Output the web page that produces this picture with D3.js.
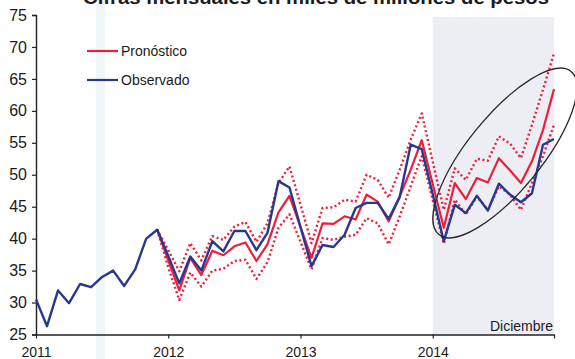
<!DOCTYPE html>
<html>
<head>
<meta charset="utf-8">
<script src="https://cdn.jsdelivr.net/npm/d3@7/dist/d3.min.js"></script>
<style>
  html, body { margin: 0; padding: 0; background: #ffffff; }
  svg { display: block; }
  text { font-family: "Liberation Sans", Arial, sans-serif; fill: #1b1b1b; }
</style>
</head>
<body>
<svg id="chart" width="575" height="359"></svg>
<script>
// ---- data (monthly, Jan 2011 .. Dec 2014) ----
const yearLabels = ["2011", "2012", "2013", "2014"];
const yTicks = [25, 30, 35, 40, 45, 50, 55, 60, 65, 70, 75];
const seriesNames = ["Pronóstico", "Observado"];
const titleText = "Cifras mensuales en miles de millones de pesos";
const endLabel = "Diciembre";

const observado = [
  30.5, 26.3, 31.9, 29.9, 32.9, 32.4, 34.0, 35.0, 32.6, 35.2, 40.0, 41.4,
  37.3, 33.0, 37.2, 35.0, 39.6, 38.0, 41.2, 41.2, 38.2, 40.9, 49.0, 48.0,
  41.8, 35.7, 39.0, 38.7, 40.6, 44.8, 45.6, 45.6, 43.1, 46.5, 54.7, 54.0,
  46.9, 39.6, 45.3, 44.0, 46.7, 44.4, 48.6, 46.9, 45.7, 47.1, 54.7, 55.6
];
const pronostico = [
  null, null, null, null, null, null, null, null, null, null, null, 41.4,
  36.6, 31.9, 37.0, 34.3, 38.1, 37.4, 38.8, 39.4, 36.5, 39.1, 44.1, 46.7,
  41.8, 37.0, 42.4, 42.3, 43.5, 43.0, 46.9, 45.8, 42.7, 46.6, 50.8, 55.4,
  48.5, 41.7, 48.7, 46.2, 49.5, 48.8, 52.6, 50.7, 48.7, 52.1, 57.0, 63.4
];
const superior = [
  null, null, null, null, null, null, null, null, null, null, null, 41.4,
  38.2, 34.9, 39.3, 36.6, 40.4, 39.8, 41.9, 42.6, 39.5, 42.4, 48.7, 51.3,
  45.3, 39.3, 44.8, 44.9, 46.1, 45.8, 50.0, 49.2, 46.4, 50.8, 55.5, 59.6,
  52.0, 44.5, 51.0, 49.2, 52.5, 52.2, 56.0, 54.9, 52.6, 57.8, 63.3, 69.0
];
const inferior = [
  null, null, null, null, null, null, null, null, null, null, null, 41.4,
  35.5, 30.4, 34.7, 32.5, 35.0, 35.3, 36.5, 36.7, 33.7, 36.3, 41.7, 43.8,
  39.5, 35.2, 40.1, 39.8, 40.3, 40.6, 43.2, 42.4, 39.1, 43.5, 48.2, 52.9,
  46.0, 39.2, 46.1, 43.8, 46.6, 44.5, 48.2, 46.9, 44.5, 48.7, 52.9, 57.8
];

// ---- layout ----
const svg = d3.select("#chart");
const RED = "#ee1d3b", BLUE = "#27388f";

const x = d3.scaleLinear().domain([0, 47]).range([36, 554]);
const y = d3.scaleLinear().domain([25, 75]).range([334.5, 15]);

// faint scan band
svg.append("rect").attr("x", 96).attr("y", 0).attr("width", 9).attr("height", 359)
  .attr("fill", "#e3f0f5").attr("opacity", 0.55);

// shaded 2014 region
svg.append("rect")
  .attr("x", x(36)).attr("y", y(75) + 2)
  .attr("width", x(47) - x(36)).attr("height", y(25) - y(75) - 2)
  .attr("fill", "#eceef3");

// title (cut at top, as in the reference)
svg.append("text").attr("x", 316).attr("y", 4).attr("text-anchor", "middle")
  .attr("font-size", 18).attr("font-weight", "bold")
  .attr("textLength", 466).attr("lengthAdjust", "spacingAndGlyphs")
  .text(titleText);

// axes
const yAxis = d3.axisLeft(y).tickValues(yTicks).tickSize(4).tickPadding(5).tickFormat(d3.format("d"));
const gy = svg.append("g").attr("transform", "translate(36,0)").call(yAxis);
gy.selectAll("text").attr("font-size", 16).style("font-family", "'Liberation Sans', Arial, sans-serif").attr("fill", "#1b1b1b");

const xTickIdx = [0, 12, 24, 36, 47];
const xAxis = d3.axisBottom(x).tickValues(xTickIdx).tickSize(4).tickSizeOuter(0)
  .tickFormat((d, i) => i < yearLabels.length ? yearLabels[i] : "");
const gx = svg.append("g").attr("transform", "translate(0," + y(25) + ")").call(xAxis);
gx.selectAll("text").attr("font-size", 14).attr("y", 13).attr("dy", "0.71em")
  .style("font-family", "'Liberation Sans', Arial, sans-serif").attr("fill", "#1b1b1b");

[gx, gy].forEach(g => {
  g.select(".domain").attr("stroke", "#222").attr("stroke-width", 1.4);
  g.selectAll(".tick line").attr("stroke", "#222").attr("stroke-width", 1.2);
});

// end label
svg.append("text").attr("x", x(47) - 1).attr("y", 331).attr("text-anchor", "end")
  .attr("font-size", 14).text(endLabel);

// lines
const line = d3.line().defined(d => d != null).x((d, i) => x(i)).y(d => y(d));

[superior, inferior].forEach(s => {
  svg.append("path").datum(s).attr("d", line)
    .attr("fill", "none").attr("stroke", RED).attr("stroke-width", 2.4)
    .attr("stroke-dasharray", "2,2.6").attr("stroke-linejoin", "round");
});
svg.append("path").datum(pronostico).attr("d", line)
  .attr("fill", "none").attr("stroke", RED).attr("stroke-width", 2.2).attr("stroke-linejoin", "round");
svg.append("path").datum(observado).attr("d", line)
  .attr("fill", "none").attr("stroke", BLUE).attr("stroke-width", 2.4).attr("stroke-linejoin", "round");

// ellipse around 2014
svg.append("ellipse").attr("cx", 0).attr("cy", 0).attr("rx", 105).attr("ry", 37)
  .attr("transform", "translate(505,153) rotate(-51)")
  .attr("fill", "none").attr("stroke", "#2b2b2b").attr("stroke-width", 1.3);

// legend
const legend = [{ name: seriesNames[0], color: RED, y: 51 }, { name: seriesNames[1], color: BLUE, y: 80 }];
legend.forEach(l => {
  svg.append("line").attr("x1", 87).attr("x2", 118).attr("y1", l.y).attr("y2", l.y)
    .attr("stroke", l.color).attr("stroke-width", 2.2);
  svg.append("text").attr("x", 121).attr("y", l.y + 5).attr("font-size", 14).text(l.name);
});
</script>
</body>
</html>
